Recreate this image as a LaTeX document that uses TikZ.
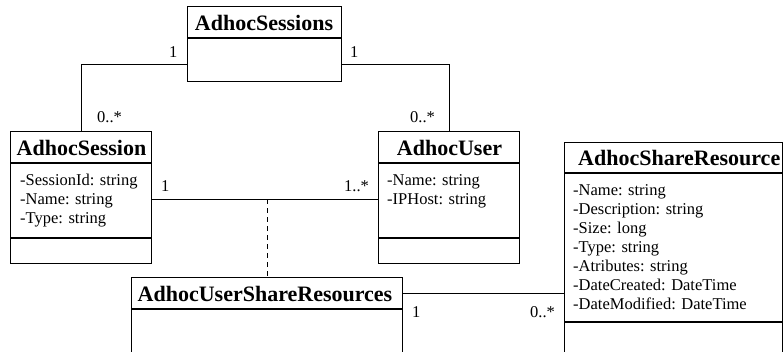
\documentclass[tikz,border=0pt]{standalone}
\usepackage{fontspec}
\setmainfont{Liberation Serif}
\begin{document}
\begin{tikzpicture}[x=1pt,y=-1pt,
  cls/.style={draw, line width=1.3pt, rectangle, inner sep=0pt, anchor=north west},
  divider/.style={line width=1.3pt},
  conn/.style={line width=0.9pt},
  ttl/.style={font=\fontsize{22}{24}\selectfont\bfseries, anchor=base, inner sep=0pt},
  attr/.style={font=\fontsize{16.5}{19}\selectfont, anchor=base west, inner sep=0pt},
  mult/.style={font=\fontsize{16.5}{19}\selectfont, anchor=base west, inner sep=0pt}]
\useasboundingbox (0,0) rectangle (783,351);
\clip (0,0) rectangle (783,351);
% classes
\node[cls, minimum width=154pt, minimum height=75pt] (sessions) at (187,6) {};
\node[cls, minimum width=141pt, minimum height=132pt] (session) at (10,131) {};
\node[cls, minimum width=141pt, minimum height=132pt] (user) at (378,131) {};
\node[cls, minimum width=271pt, minimum height=120pt] (usr) at (131,277) {};
\node[cls, minimum width=218pt, minimum height=260pt] (res) at (564,142) {};
% dividers
\draw[divider] (sessions.north west) ++(0,32) -- ++(154,0);
\draw[divider] (session.north west) ++(0,32) -- ++(141,0);
\draw[divider] (session.north west) ++(0,107) -- ++(141,0);
\draw[divider] (user.north west) ++(0,32) -- ++(141,0);
\draw[divider] (user.north west) ++(0,107) -- ++(141,0);
\draw[divider] (usr.north west) ++(0,32) -- ++(271,0);
\draw[divider] (res.north west) ++(0,31) -- ++(218,0);
\draw[divider] (res.north west) ++(0,180) -- ++(218,0);
% titles
\node[ttl] (tsessions) at (264,30) {AdhocSessions};
\node[ttl] (tsession) at (81.5,155) {AdhocSession};
\node[ttl] (tuser) at (449.5,155) {AdhocUser};
\node[ttl] (tusr) at (265,301) {AdhocUserShareResources};
\node[ttl, anchor=base west] (tres) at (578,165) {AdhocShareResource};
% attributes
\node[attr] (a1) at (20,185) {-SessionId: string};
\node[attr] (a2) at (20,204) {-Name: string};
\node[attr] (a3) at (20,223) {-Type: string};
\node[attr] (b1) at (387,185) {-Name: string};
\node[attr] (b2) at (387,204) {-IPHost: string};
\node[attr] (c1) at (573,195.5) {-Name: string};
\node[attr] (c2) at (573,214.5) {-Description: string};
\node[attr] (c3) at (573,233.5) {-Size: long};
\node[attr] (c4) at (573,252.5) {-Type: string};
\node[attr] (c5) at (573,271.5) {-Atributes: string};
\node[attr] (c6) at (573,290.5) {-DateCreated: DateTime};
\node[attr] (c7) at (573,309.5) {-DateModified: DateTime};
% connectors
\draw[conn] (sessions.west |- 0,64) -| (session.north);
\draw[conn] (sessions.east |- 0,64) -| (user.north);
\draw[conn] (session.east |- 0,199) -- (user.west |- 0,199);
\draw[conn, dash pattern=on 5pt off 4pt] (usr.north |- 0,199) -- (usr.north);
\draw[conn] (usr.east |- 0,293) -- (res.west |- 0,293);
% multiplicities
\node[mult] (m1) at (169,57) {1};
\node[mult] (m2) at (350,57) {1};
\node[mult] (m3) at (97,122) {0..*};
\node[mult] (m4) at (410,122) {0..*};
\node[mult] (m5) at (161,191) {1};
\node[mult] (m6) at (344,191) {1..*};
\node[mult] (m7) at (412,317) {1};
\node[mult] (m8) at (530,317) {0..*};
\end{tikzpicture}
\end{document}
